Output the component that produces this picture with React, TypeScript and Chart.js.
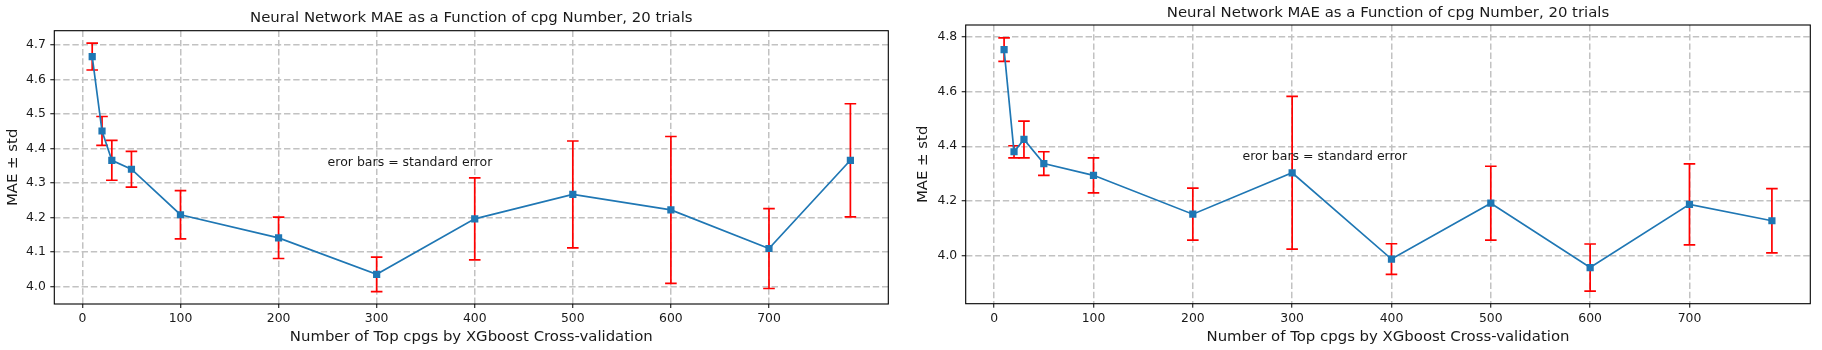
import React, { useEffect, useRef } from "react";
import { Chart, registerables } from "chart.js";

Chart.register(...registerables);

// ---------- data ----------
const X_VALUES = [10, 20, 30, 50, 100, 200, 300, 400, 500, 600, 700, 783];

const LEFT_MAE = [4.667, 4.451, 4.366, 4.34, 4.208, 4.141, 4.035, 4.196, 4.267, 4.222, 4.11, 4.366];
const LEFT_ERR = [0.039, 0.042, 0.058, 0.052, 0.07, 0.06, 0.05, 0.119, 0.155, 0.213, 0.116, 0.164];

const RIGHT_MAE = [4.753, 4.38, 4.425, 4.337, 4.294, 4.152, 4.303, 3.988, 4.192, 3.957, 4.188, 4.128];
const RIGHT_ERR = [0.043, 0.022, 0.067, 0.043, 0.064, 0.095, 0.279, 0.056, 0.135, 0.086, 0.148, 0.117];

const X_TICKS = [0, 100, 200, 300, 400, 500, 600, 700];
const LEFT_Y_TICKS = [4.0, 4.1, 4.2, 4.3, 4.4, 4.5, 4.6, 4.7];
const RIGHT_Y_TICKS = [4.0, 4.2, 4.4, 4.6, 4.8];

const TITLE = "Neural Network MAE as a Function of cpg Number, 20 trials";
const X_LABEL = "Number of Top cpgs by XGboost Cross-validation";
const Y_LABEL = "MAE ± std";
const NOTE = "eror bars = standard error";
const NOTE_POS = [250, 4.35];

const X_RANGE = [-28.65, 821.65];
const LEFT_Y_RANGE = [3.949, 4.742];
const RIGHT_Y_RANGE = [3.825, 4.843];

// ---------- style ----------
const FONT = "'DejaVu Sans', 'Liberation Sans', sans-serif";
const TICK_SIZE = 12.4;
const LABEL_SIZE = 14.9;
const TITLE_SIZE = 14.9;
const NOTE_SIZE = 12.5;
const LINE_COLOR = "#1f77b4";
const ERR_COLOR = "#ff0000";
const GRID_COLOR = "#c2c2c2";
const TEXT_COLOR = "#1a1a1a";

const CANVAS_W = 911;
const CANVAS_H = 350;

type Panel = {
  mae: number[];
  err: number[];
  yTicks: number[];
  yRange: number[];
  area: { left: number; right: number; top: number; bottom: number };
  titleY: number;
  yLabelX: number;
  xLabelY: number;
  offsetLeft: number;
};

const PANELS: Panel[] = [
  {
    mae: LEFT_MAE,
    err: LEFT_ERR,
    yTicks: LEFT_Y_TICKS,
    yRange: LEFT_Y_RANGE,
    area: { left: 54.3, right: 888.3, top: 30.7, bottom: 304 },
    titleY: 18,
    yLabelX: 12.7,
    xLabelY: 337,
    offsetLeft: 0,
  },
  {
    mae: RIGHT_MAE,
    err: RIGHT_ERR,
    yTicks: RIGHT_Y_TICKS,
    yRange: RIGHT_Y_RANGE,
    area: { left: 54.7, right: 899.3, top: 25, bottom: 303.7 },
    titleY: 13,
    yLabelX: 11.7,
    xLabelY: 337,
    offsetLeft: 911,
  },
];

const extrasPlugin = {
  id: "extras",
  beforeDatasetsDraw(chart: any, _args: any, opts: any) {
    const { ctx } = chart;
    const xs = chart.scales.x;
    const ys = chart.scales.y;
    const ds = chart.data.datasets[0];
    const errs: number[] = opts.errors || [];
    ctx.save();
    ctx.strokeStyle = ERR_COLOR;
    ctx.lineWidth = 1.7;
    const cap = 5.8;
    ds.data.forEach((pt: any, i: number) => {
      const e = errs[i];
      const px = xs.getPixelForValue(pt.x);
      const yt = ys.getPixelForValue(pt.y + e);
      const yb = ys.getPixelForValue(pt.y - e);
      ctx.beginPath();
      ctx.moveTo(px, yt);
      ctx.lineTo(px, yb);
      ctx.moveTo(px - cap, yt);
      ctx.lineTo(px + cap, yt);
      ctx.moveTo(px - cap, yb);
      ctx.lineTo(px + cap, yb);
      ctx.stroke();
    });
    ctx.restore();
  },
  afterDraw(chart: any, _args: any, opts: any) {
    const { ctx, chartArea } = chart;
    const xs = chart.scales.x;
    const ys = chart.scales.y;
    ctx.save();
    // frame
    ctx.strokeStyle = "#000";
    ctx.lineWidth = 1.1;
    ctx.strokeRect(chartArea.left, chartArea.top, chartArea.right - chartArea.left, chartArea.bottom - chartArea.top);
    // title
    ctx.fillStyle = TEXT_COLOR;
    ctx.font = `${TITLE_SIZE}px ${FONT}`;
    ctx.textAlign = "center";
    ctx.textBaseline = "middle";
    ctx.fillText(TITLE, (chartArea.left + chartArea.right) / 2, opts.titleY);
    // note
    ctx.font = `${NOTE_SIZE}px ${FONT}`;
    ctx.textAlign = "left";
    ctx.textBaseline = "alphabetic";
    ctx.fillText(NOTE, xs.getPixelForValue(NOTE_POS[0]), ys.getPixelForValue(NOTE_POS[1]));
    ctx.restore();
  },
};

function PanelChart({ panel }: { panel: Panel }) {
  const ref = useRef<HTMLCanvasElement | null>(null);
  useEffect(() => {
    if (!ref.current) return;
    const p = panel;
    const labelLH = LABEL_SIZE * 1.2;
    const chart = new Chart(ref.current, {
      type: "line",
      data: {
        datasets: [
          {
            data: X_VALUES.map((x, i) => ({ x, y: p.mae[i] })),
            borderColor: LINE_COLOR,
            backgroundColor: LINE_COLOR,
            borderWidth: 1.7,
            pointStyle: "rect",
            pointRadius: 5.1,
            pointBackgroundColor: LINE_COLOR,
            pointBorderColor: LINE_COLOR,
            pointBorderWidth: 0,
            tension: 0,
            fill: false,
          },
        ],
      },
      options: {
        animation: false,
        responsive: false,
        devicePixelRatio: 1,
        layout: {
          padding: {
            left: 0,
            top: p.area.top,
            right: CANVAS_W - p.area.right,
            bottom: 0,
          },
        },
        plugins: {
          legend: { display: false },
          tooltip: { enabled: false },
          title: { display: false },
          extras: { errors: p.err, titleY: p.titleY },
        } as any,
        scales: {
          x: {
            type: "linear",
            min: X_RANGE[0],
            max: X_RANGE[1],
            afterBuildTicks: (s: any) => {
              s.ticks = X_TICKS.map((v) => ({ value: v }));
            },
            afterFit: (s: any) => {
              s.height = CANVAS_H - p.area.bottom;
            },
            ticks: {
              autoSkip: false,
              maxRotation: 0,
              padding: 3.5,
              color: TEXT_COLOR,
              font: { family: FONT, size: TICK_SIZE },
              callback: (v: any) => String(v),
            },
            grid: {
              color: GRID_COLOR,
              lineWidth: 1.5,
              drawTicks: true,
              tickLength: 4,
              tickColor: "#000",
              tickWidth: 1,
              tickBorderDash: [],
            },
            border: { display: false, dash: [6.4, 2.8] },
            title: {
              display: true,
              text: X_LABEL,
              color: TEXT_COLOR,
              font: { family: FONT, size: LABEL_SIZE },
              padding: { top: 0, bottom: CANVAS_H - p.xLabelY - labelLH / 2 },
            },
          },
          y: {
            type: "linear",
            min: p.yRange[0],
            max: p.yRange[1],
            afterBuildTicks: (s: any) => {
              s.ticks = p.yTicks.map((v) => ({ value: v }));
            },
            afterFit: (s: any) => {
              s.width = p.area.left;
            },
            ticks: {
              autoSkip: false,
              padding: 4.5,
              color: TEXT_COLOR,
              font: { family: FONT, size: TICK_SIZE },
              callback: (v: any) => Number(v).toFixed(1),
            },
            grid: {
              color: GRID_COLOR,
              lineWidth: 1.5,
              drawTicks: true,
              tickLength: 4,
              tickColor: "#000",
              tickWidth: 1,
              tickBorderDash: [],
            },
            border: { display: false, dash: [6.4, 2.8] },
            title: {
              display: true,
              text: Y_LABEL,
              color: TEXT_COLOR,
              font: { family: FONT, size: LABEL_SIZE },
              padding: { top: p.yLabelX - labelLH / 2, bottom: 0 },
            },
          },
        },
      } as any,
      plugins: [extrasPlugin],
    });
    return () => chart.destroy();
  }, [panel]);
  return (
    <canvas
      ref={ref}
      width={CANVAS_W}
      height={CANVAS_H}
      style={{ position: "absolute", left: panel.offsetLeft, top: 0, width: CANVAS_W, height: CANVAS_H }}
    />
  );
}

export default function App() {
  useEffect(() => {
    document.body.style.margin = "0";
    document.body.style.background = "#fff";
  }, []);
  return (
    <div style={{ position: "relative", width: 1822, height: 350, background: "#fff", overflow: "hidden" }}>
      {PANELS.map((p, i) => (
        <PanelChart key={i} panel={p} />
      ))}
    </div>
  );
}
